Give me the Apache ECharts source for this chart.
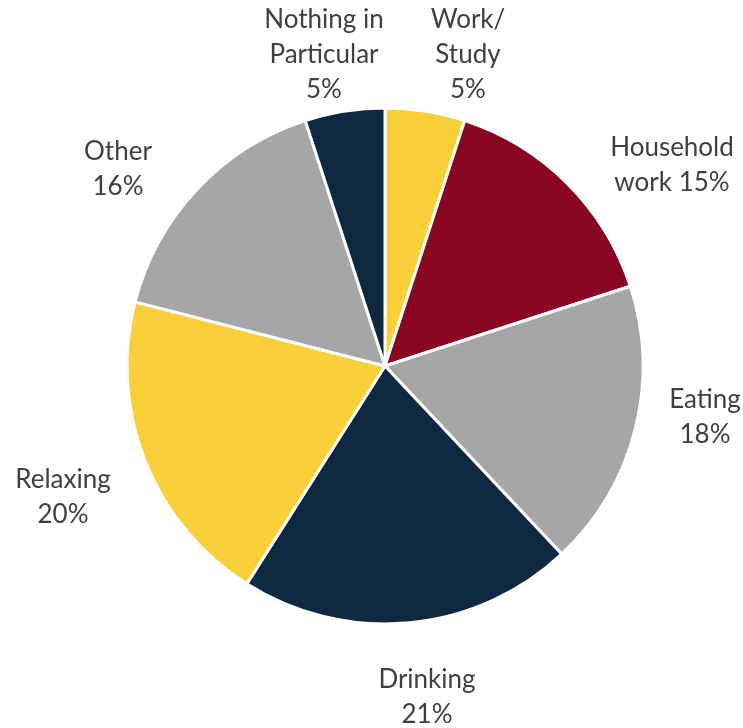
<!DOCTYPE html>
<html>
<head>
<meta charset="utf-8">
<script src="https://cdn.jsdelivr.net/npm/echarts@6/dist/echarts.min.js"></script>
<style>
  html, body { margin: 0; padding: 0; background: #ffffff; }
  #chart { width: 743px; height: 728px; }
</style>
</head>
<body>
<div id="chart"></div>
<script>
// Activity categories, clockwise from 12 o'clock
const categories = ['Work/\nStudy', 'Household\nwork', 'Eating', 'Drinking', 'Relaxing', 'Other', 'Nothing in\nParticular'];
const shares = [5, 15, 18, 21, 20, 16, 5];
const sliceColors = ['#F9CF3A', '#8A0522', '#A6A6A6', '#0E2841', '#F9CF3A', '#A6A6A6', '#0E2841'];

// Label text-block centres (px), one per slice
const labelSpots = [
  [468, 55], [672, 165], [705, 417], [427, 697], [63, 497], [118, 169], [324, 55]
];

function labelText(name, value) {
  // "Household work" keeps the value on the second line
  if (name === 'Household\nwork') return 'Household\nwork ' + value + '%';
  return name + '\n' + value + '%';
}

const chart = echarts.init(document.getElementById('chart'));
chart.setOption({
  animation: false,
  series: [{
    type: 'pie',
    center: [385, 366],
    radius: [0, 258],
    startAngle: 90,
    clockwise: true,
    data: categories.map((c, i) => ({
      name: c,
      value: shares[i],
      itemStyle: { color: sliceColors[i] }
    })),
    itemStyle: { borderColor: '#ffffff', borderWidth: 3 },
    label: {
      show: true,
      position: 'outside',
      formatter: p => labelText(p.name, p.value),
      fontFamily: 'Lato, "Noto Sans", sans-serif',
      fontSize: 26,
      lineHeight: 35,
      color: '#404040',
      align: 'center',
      overflow: 'none'
    },
    labelLine: { show: false },
    labelLayout: params => ({
      x: labelSpots[params.dataIndex][0],
      y: labelSpots[params.dataIndex][1],
      align: 'center',
      verticalAlign: 'middle'
    }),
    emphasis: { disabled: true }
  }]
});
</script>
</body>
</html>
